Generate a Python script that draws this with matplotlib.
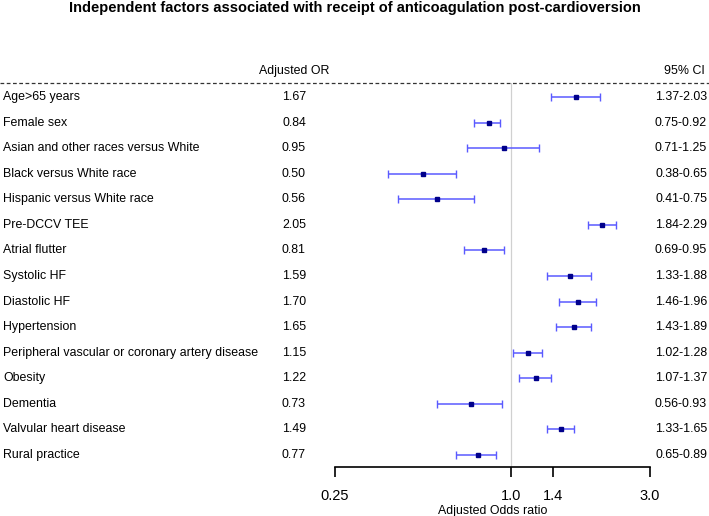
import matplotlib
matplotlib.use("Agg")
import matplotlib.pyplot as plt
import matplotlib.transforms as mtransforms

plt.rcParams["font.family"] = ["Liberation Sans", "DejaVu Sans"]

# data
factors = [
    "Age>65 years",
    "Female sex",
    "Asian and other races versus White",
    "Black versus White race",
    "Hispanic versus White race",
    "Pre-DCCV TEE",
    "Atrial flutter",
    "Systolic HF",
    "Diastolic HF",
    "Hypertension",
    "Peripheral vascular or coronary artery disease",
    "Obesity",
    "Dementia",
    "Valvular heart disease",
    "Rural practice",
]
odds = [1.67, 0.84, 0.95, 0.50, 0.56, 2.05, 0.81, 1.59, 1.70, 1.65, 1.15, 1.22, 0.73, 1.49, 0.77]
ci_low = [1.37, 0.75, 0.71, 0.38, 0.41, 1.84, 0.69, 1.33, 1.46, 1.43, 1.02, 1.07, 0.56, 1.33, 0.65]
ci_high = [2.03, 0.92, 1.25, 0.65, 0.75, 2.29, 0.95, 1.88, 1.96, 1.89, 1.28, 1.37, 0.93, 1.65, 0.89]
xticks = [0.25, 1.0, 1.4, 3.0]
xtick_labels = ["0.25", "1.0", "1.4", "3.0"]

W, H = 709, 516
FS = 8.9
fig = plt.figure(figsize=(W / 100, H / 100), dpi=100)
ax = fig.add_axes([335 / W, (H - 467) / H, (650 - 335) / W, (467 - 83) / H])

rows = list(range(len(factors)))
err_lo = [o - l for o, l in zip(odds, ci_low)]
err_hi = [h - o for o, h in zip(odds, ci_high)]

ax.axvline(1.0, color="#d0d0d0", lw=0.9, zorder=0)
ax.errorbar(odds, rows, xerr=[err_lo, err_hi], fmt="none", ecolor="#5a5aff",
            elinewidth=1.1, capsize=3.2, capthick=1.0)
ax.plot(odds, rows, "s", color="#00008b", ms=3.2, zorder=3)

ax.set_xscale("log")
ax.set_xlim(0.25, 3.0)
ax.set_ylim(14.47, -0.55)
ax.set_xticks(xticks)
ax.set_xticklabels(xtick_labels, fontsize=10.5)
ax.xaxis.set_minor_locator(matplotlib.ticker.NullLocator())
ax.tick_params(axis="x", length=7, width=1.2, pad=9)
ax.set_yticks([])
for s in ["top", "right", "left"]:
    ax.spines[s].set_visible(False)
ax.spines["bottom"].set_linewidth(1.2)
ax.set_xlabel("Adjusted Odds ratio", fontsize=FS, labelpad=1)

trans = mtransforms.blended_transform_factory(fig.transFigure, ax.transData)
for i, (name, o, lo, hi) in enumerate(zip(factors, odds, ci_low, ci_high)):
    ax.text(3 / W, i, name, transform=trans, ha="left", va="center", fontsize=FS)
    ax.text(294 / W, i, f"{o:.2f}", transform=trans, ha="center", va="center", fontsize=FS)
    ax.text(707 / W, i, f"{lo:.2f}-{hi:.2f}", transform=trans, ha="right", va="center", fontsize=FS)

fig.text(294 / W, 1 - 71 / H, "Adjusted OR", ha="center", va="center", fontsize=FS)
fig.text(705 / W, 1 - 71 / H, "95% CI", ha="right", va="center", fontsize=FS)
fig.add_artist(plt.Line2D([0, 1], [1 - 83 / H, 1 - 83 / H], color="#333333",
                          lw=0.9, ls=(0, (3, 2)), transform=fig.transFigure))

fig.text(355 / W, 1 - 8 / H, "Independent factors associated with receipt of anticoagulation post-cardioversion",
         ha="center", va="center", fontsize=10.5, fontweight="bold")

fig.savefig("out.png", dpi=100)
